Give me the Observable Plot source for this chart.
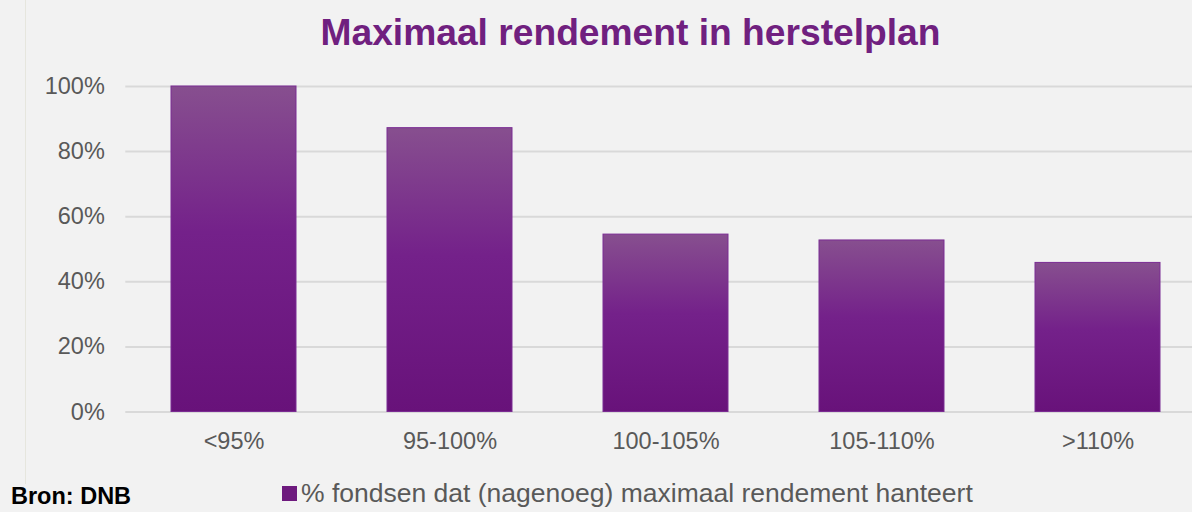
<!DOCTYPE html>
<html>
<head>
<meta charset="utf-8">
<script src="https://cdn.jsdelivr.net/npm/d3@7"></script>
<script src="https://cdn.jsdelivr.net/npm/@observablehq/plot@0.6"></script>
<style>
  html, body { margin: 0; padding: 0; background: #f2f2f2; }
  #wrap { position: relative; width: 1192px; height: 512px; overflow: hidden; background: #f2f2f2; font-family: "Liberation Sans", Arial, sans-serif; }
  #chart { position: absolute; left: 0; top: 0; }
  #title { position: absolute; top: 14px; left: 630.5px; transform: translateX(-50%); white-space: nowrap; font-weight: bold; font-size: 37.2px; line-height: 1; color: #70207f; }
  #sw { position: absolute; left: 282px; top: 486px; width: 15px; height: 15px; background: #6e1a7e; }
  #legend { position: absolute; top: 479.5px; left: 301px; white-space: nowrap; font-size: 26.5px; line-height: 1; color: #595959; }
  #source { position: absolute; top: 485px; left: 11px; white-space: nowrap; font-weight: bold; font-size: 23.5px; line-height: 1; color: #000; }
  #vline { position: absolute; left: 25px; top: 0; width: 1px; height: 484px; background: #e6e6de; }
</style>
</head>
<body>
<div id="wrap">
  <div id="vline"></div>
  <div id="chart"></div>
  <div id="title">Maximaal rendement in herstelplan</div>
  <div id="sw"></div>
  <div id="legend">% fondsen dat (nagenoeg) maximaal rendement hanteert</div>
  <div id="source">Bron: DNB</div>
</div>
<script>
const categories = ["<95%", "95-100%", "100-105%", "105-110%", ">110%"];
const values = [100, 87.2, 54.5, 52.7, 45.8];
const yTicks = [0, 20, 40, 60, 80, 100];
const seriesName = "% fondsen dat (nagenoeg) maximaal rendement hanteert";

const data = categories.map((c, i) => ({category: c, value: values[i], series: seriesName}));

const plot = Plot.plot({
  width: 1192,
  height: 512,
  marginTop: 86,
  marginBottom: 100.5,
  marginLeft: 125.3,
  marginRight: 0,
  style: {background: "transparent", fontFamily: "'Liberation Sans', Arial, sans-serif", fontSize: "23.5px", color: "#595959"},
  x: {domain: categories, range: [125.3, 1206.5], paddingInner: 0.422, paddingOuter: 0.211, label: null},
  y: {domain: [0, 100], label: null},
  marks: [
    Plot.ruleY(yTicks, {stroke: "#d9d9d9", strokeWidth: 2}),
    Plot.barY(data, {x: "category", y: "value", fill: "url(#barGrad)", stroke: "#7b2c93", strokeWidth: 1}),
    Plot.axisX({tickSize: 0, tickPadding: 20, fontSize: 23.5, fill: "#595959", label: null}),
    Plot.axisY({ticks: yTicks, tickFormat: d => d + "%", tickSize: 0, tickPadding: 21, fontSize: 23.5, fill: "#595959", label: null})
  ]
});

const ns = "http://www.w3.org/2000/svg";
const defs = document.createElementNS(ns, "defs");
const grad = document.createElementNS(ns, "linearGradient");
grad.setAttribute("id", "barGrad");
grad.setAttribute("x1", "0"); grad.setAttribute("y1", "0");
grad.setAttribute("x2", "0"); grad.setAttribute("y2", "1");
[["0%", "#874f8f"], ["45%", "#74218a"], ["100%", "#68127a"]].forEach(([o, c]) => {
  const s = document.createElementNS(ns, "stop");
  s.setAttribute("offset", o);
  s.setAttribute("stop-color", c);
  grad.appendChild(s);
});
defs.appendChild(grad);
plot.insertBefore(defs, plot.firstChild);

document.getElementById("chart").appendChild(plot);
</script>
</body>
</html>
